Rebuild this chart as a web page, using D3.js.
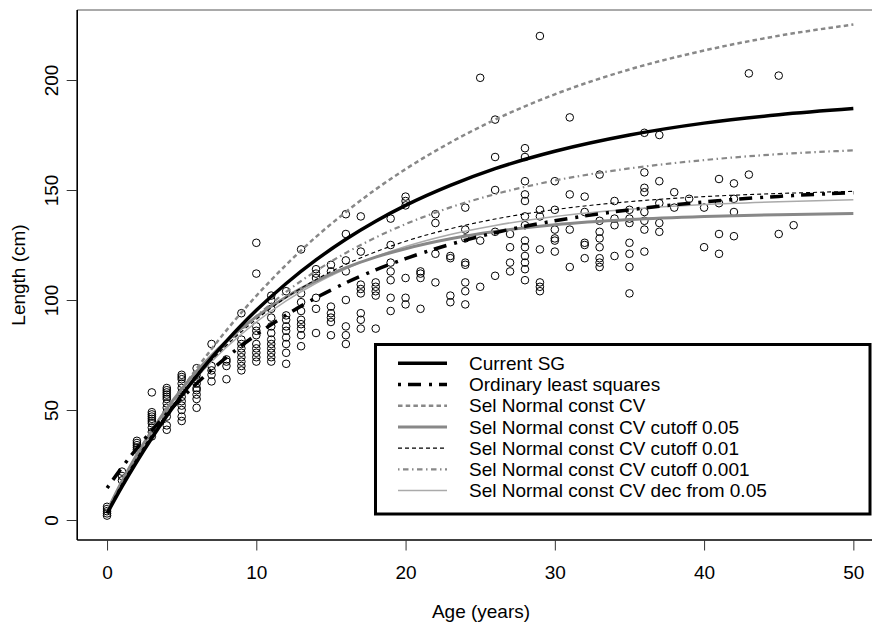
<!DOCTYPE html>
<html>
<head>
<meta charset="utf-8">
<script src="https://cdn.jsdelivr.net/npm/d3@7"></script>
<style>
  body { margin: 0; background: #fff; }
  svg { display: block; font-family: "Liberation Sans", Arial, Helvetica, sans-serif; }
</style>
</head>
<body>
<div id="chart"></div>
<script>
// observed lengths (cm), grouped by age (years)
const obsByAge = [
    [0, [2, 3, 4, 5, 6]],
    [1, [18, 20, 22]],
    [2, [32, 33, 34, 35, 36]],
    [3, [38, 40, 42, 44, 45, 46, 47, 48, 49, 58]],
    [4, [41, 43, 47, 49, 51, 53, 55, 56, 57, 58, 59, 60]],
    [5, [45, 47, 50, 52, 54, 56, 58, 60, 62, 64, 65, 66]],
    [6, [51, 55, 57, 59, 60, 62, 64, 66, 69]],
    [7, [63, 66, 68, 70, 80]],
    [8, [64, 70, 72, 73]],
    [9, [68, 70, 72, 74, 76, 78, 80, 82, 94]],
    [10, [72, 74, 76, 78, 80, 84, 86, 88, 112, 126]],
    [11, [72, 74, 76, 78, 80, 82, 85, 88, 92, 96, 100, 102]],
    [12, [71, 76, 80, 83, 86, 88, 91, 93, 104]],
    [13, [79, 84, 87, 89, 91, 95, 99, 103, 123]],
    [14, [85, 96, 101, 110, 112, 114]],
    [15, [84, 90, 92, 94, 97, 113, 116]],
    [16, [80, 84, 88, 100, 113, 118, 130, 139]],
    [17, [87, 91, 94, 103, 105, 107, 122, 138]],
    [18, [87, 102, 104, 106, 108]],
    [19, [95, 101, 109, 113, 117, 125, 137]],
    [20, [98, 101, 110, 143, 145, 147]],
    [21, [96, 110, 112, 113]],
    [22, [108, 121, 135, 139]],
    [23, [99, 102, 119, 120]],
    [24, [98, 104, 108, 116, 117, 128, 132, 142]],
    [25, [106, 127, 201]],
    [26, [111, 131, 150, 165, 182]],
    [27, [113, 117, 124, 130]],
    [28, [109, 114, 117, 120, 124, 127, 134, 138, 145, 148, 154, 165, 169]],
    [29, [104, 106, 108, 123, 138, 141, 220]],
    [30, [122, 127, 128, 132, 141, 154]],
    [31, [115, 132, 148, 183]],
    [32, [119, 125, 126, 140, 147]],
    [33, [115, 117, 119, 124, 128, 131, 136, 157]],
    [34, [120, 134, 137, 145]],
    [35, [103, 115, 121, 126, 135, 137, 141]],
    [36, [122, 132, 136, 140, 149, 151, 158, 176]],
    [37, [131, 135, 144, 154, 175]],
    [38, [142, 149]],
    [39, [146]],
    [40, [124, 142]],
    [41, [121, 130, 144, 155]],
    [42, [129, 140, 146, 153]],
    [43, [157, 203]],
    [45, [130, 202]],
    [46, [134]]
];

// fitted growth curves
const fitAges = [0, 1, 2, 3, 4, 5, 6, 7, 8, 10, 12, 14, 16, 18, 20, 23, 26, 30, 35, 40, 45, 50];
const currentSG = [3.0, 15.2, 26.6, 37.3, 47.3, 56.7, 65.4, 73.7, 81.3, 95.3, 107.5, 118.2, 127.6, 135.8, 143.0, 152.1, 159.7, 167.6, 175.0, 180.4, 184.2, 187.0];
const ols = [14.5, 23.9, 32.6, 40.7, 48.3, 55.4, 62.0, 68.2, 73.9, 84.2, 93.2, 101.0, 107.8, 113.7, 118.8, 125.3, 130.6, 136.0, 141.0, 144.6, 147.1, 148.8];
const selConstCV = [3.9, 16.2, 27.9, 38.9, 49.4, 59.4, 68.8, 77.7, 86.2, 101.9, 116.0, 128.7, 140.0, 150.3, 159.5, 171.6, 182.0, 193.5, 204.8, 213.4, 220.1, 225.2];
const cutoff05 = [4.0, 17.6, 29.8, 40.7, 50.6, 59.5, 67.6, 74.8, 81.3, 92.4, 101.4, 108.7, 114.7, 119.5, 123.3, 127.8, 131.1, 134.2, 136.6, 138.0, 138.8, 139.3];
const cutoff01 = [4.0, 16.6, 28.2, 38.8, 48.4, 57.3, 65.3, 72.7, 79.4, 91.2, 101.1, 109.3, 116.2, 121.9, 126.7, 132.4, 136.8, 141.1, 144.7, 147.0, 148.4, 149.4];
const cutoff001 = [4.0, 16.1, 27.4, 37.9, 47.5, 56.5, 64.9, 72.6, 79.8, 92.6, 103.7, 113.2, 121.4, 128.4, 134.5, 142.1, 148.1, 154.3, 159.8, 163.6, 166.3, 168.0];
const decFrom05 = [4.0, 16.6, 28.0, 38.5, 48.0, 56.7, 64.7, 71.9, 78.5, 90.0, 99.6, 107.6, 114.2, 119.7, 124.3, 129.8, 133.9, 138.0, 141.3, 143.4, 144.7, 145.6];

const seriesNames = ['Current SG', 'Ordinary least squares', 'Sel Normal const CV', 'Sel Normal const CV cutoff 0.05',
    'Sel Normal const CV cutoff 0.01', 'Sel Normal const CV cutoff 0.001', 'Sel Normal const CV dec from 0.05'];
const seriesValues = [currentSG, ols, selConstCV, cutoff05, cutoff01, cutoff001, decFrom05];

const xTicks = [0, 10, 20, 30, 40, 50];
const yTicks = [0, 50, 100, 150, 200];

// line look for each series, same order as the names
const styles = [
    {color: '#000', width: 3.5, dash: null},
    {color: '#000', width: 3.5, dash: '3 7 13 8'},
    {color: '#888', width: 2.5, dash: '4.5 3.2'},
    {color: '#888', width: 3, dash: null},
    {color: '#000', width: 1.1, dash: '4 3'},
    {color: '#888', width: 2.2, dash: '1.5 3.5 5.5 3.5'},
    {color: '#aaa', width: 1.5, dash: null}
];

const width = 872;
const height = 623;
const fontSize = 19;

const svg = d3.select('#chart')
    .append('svg')
        .attr('viewBox', [0, 0, width, height])
        .attr('width', width)
        .attr('height', height);

svg.append('rect')
    .attr('width', width)
    .attr('height', height)
    .attr('fill', '#fff');

// R-style ranges: data range padded by 4 %
const x = d3.scaleLinear().domain([-2, 52]).range([77.2, 883.2]);
const y = d3.scaleLinear().domain([-9.09, 231.82]).range([540, 10]);

// points first, curves on top
const points = obsByAge.flatMap(([age, lens]) => lens.map(len => ({age, len})));
svg.append('g')
    .attr('fill', 'none')
    .attr('stroke', '#000')
    .attr('stroke-width', 1)
    .selectAll('circle')
    .data(points)
    .join('circle')
        .attr('cx', d => x(d.age))
        .attr('cy', d => y(d.len))
        .attr('r', 3.8);

const line = d3.line()
    .x((d, i) => x(fitAges[i]))
    .y(d => y(d))
    .curve(d3.curveMonotoneX);

// draw the faint ones first so the black lines sit on top
const drawOrder = [6, 5, 3, 2, 4, 1, 0];
svg.append('g')
    .attr('fill', 'none')
    .selectAll('path')
    .data(drawOrder)
    .join('path')
        .attr('d', i => line(seriesValues[i]))
        .attr('stroke', i => styles[i].color)
        .attr('stroke-width', i => styles[i].width)
        .attr('stroke-dasharray', i => styles[i].dash);

// frame: top border is thin, left and bottom are the axis sides
svg.append('line')
    .attr('x1', 77.2).attr('x2', 883.2)
    .attr('y1', 10).attr('y2', 10)
    .attr('stroke', '#555').attr('stroke-width', 1);
svg.append('line')
    .attr('x1', 77.2).attr('x2', 77.2)
    .attr('y1', 10).attr('y2', 540)
    .attr('stroke', '#000').attr('stroke-width', 1.6);
svg.append('line')
    .attr('x1', 77.2).attr('x2', 883.2)
    .attr('y1', 540).attr('y2', 540)
    .attr('stroke', '#000').attr('stroke-width', 1.6);

// x axis
const xAxis = svg.append('g')
    .attr('transform', 'translate(0, 540)')
    .call(d3.axisBottom(x).tickValues(xTicks).tickSize(10.5).tickPadding(10).tickFormat(d3.format('d')));
xAxis.select('.domain').remove();
xAxis.selectAll('.tick line').attr('stroke', '#333');
xAxis.selectAll('.tick text')
    .attr('y', null).attr('dy', null)
    .attr('transform', 'translate(0, 39)')
    .style('font-size', fontSize + 'px')
    .attr('fill', '#000');

// y axis, labels turned like R does
const yAxis = svg.append('g')
    .attr('transform', 'translate(77.2, 0)')
    .call(d3.axisLeft(y).tickValues(yTicks).tickSize(10.5).tickFormat(d3.format('d')));
yAxis.select('.domain').remove();
yAxis.selectAll('.tick line').attr('stroke', '#333');
yAxis.selectAll('.tick text')
    .attr('x', null).attr('dy', null)
    .attr('text-anchor', 'middle')
    .attr('transform', 'translate(-18.7, 0) rotate(-90)')
    .style('font-size', fontSize + 'px')
    .attr('fill', '#000');

svg.append('text')
    .attr('x', 481)
    .attr('y', 618)
    .attr('text-anchor', 'middle')
    .style('font-size', fontSize + 'px')
    .text('Age (years)');

svg.append('text')
    .attr('transform', 'translate(25, 275) rotate(-90)')
    .attr('text-anchor', 'middle')
    .style('font-size', fontSize + 'px')
    .text('Length (cm)');

// legend
const legend = svg.append('g');
legend.append('rect')
    .attr('x', 375.5)
    .attr('y', 344.5)
    .attr('width', 870 - 375.5)
    .attr('height', 514 - 344.5)
    .attr('fill', '#fff')
    .attr('stroke', '#000')
    .attr('stroke-width', 3);

const rows = legend.selectAll('.legend-row')
    .data(seriesNames)
    .join('g')
        .attr('class', 'legend-row')
        .attr('transform', (d, i) => `translate(0, ${363.3 + i * 21.2})`);
rows.append('line')
    .attr('x1', 398).attr('x2', 447)
    .attr('stroke', (d, i) => styles[i].color)
    .attr('stroke-width', (d, i) => styles[i].width)
    .attr('stroke-dasharray', (d, i) => styles[i].dash);
rows.append('text')
    .attr('x', 469)
    .attr('y', 6.7)
    .style('font-size', fontSize + 'px')
    .text(d => d);
</script>
</body>
</html>
